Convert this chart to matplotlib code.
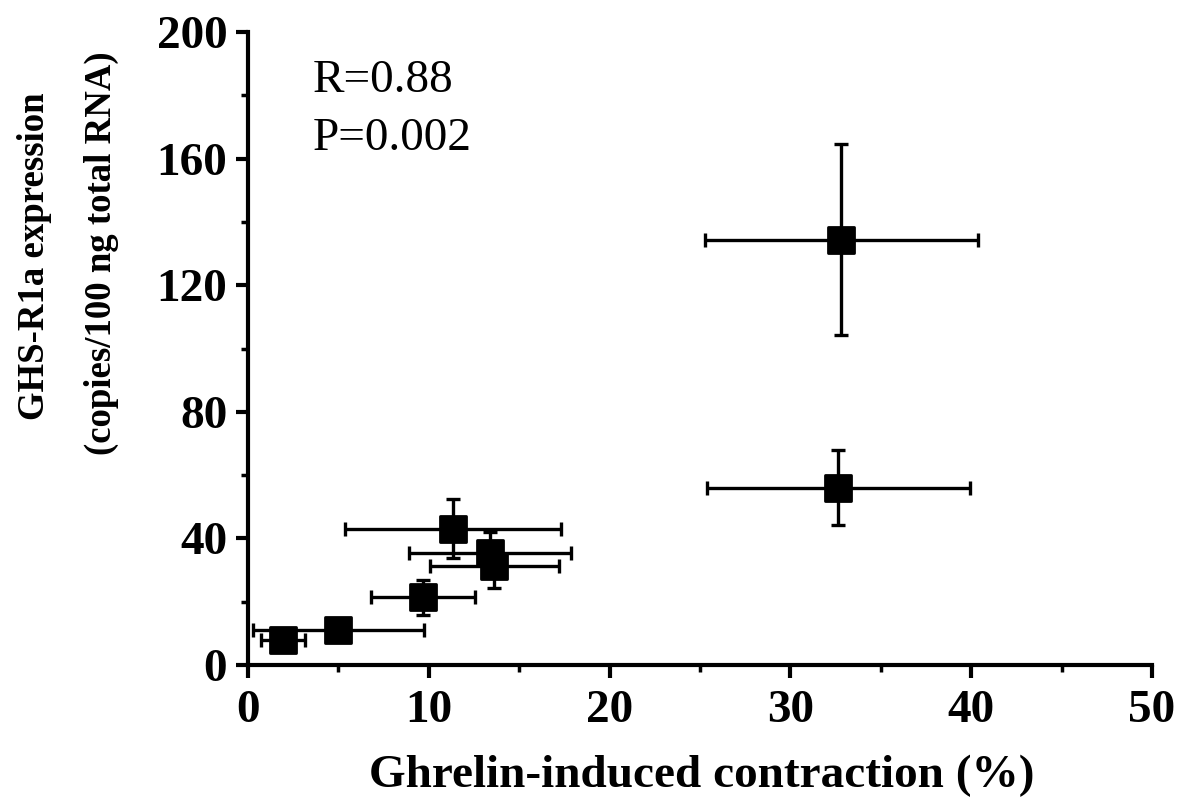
import matplotlib
matplotlib.use("Agg")
import matplotlib.pyplot as plt
from matplotlib.markers import MarkerStyle
from matplotlib.ticker import MultipleLocator

# Ghrelin-induced contraction (%) vs GHS-R1a expression, mean ± SEM
contraction = [1.94, 4.99, 9.66, 11.34, 13.38, 13.63, 32.82, 32.64]
contraction_err = [1.24, 4.73, 2.88, 5.98, 4.49, 3.58, 7.57, 7.28]
expression = [7.8, 11.0, 21.4, 43.0, 35.3, 31.2, 134.4, 56.0]
expression_err = [2.0, 2.0, 5.6, 9.3, 6.6, 6.8, 30.2, 11.9]

x_ticks = [0, 10, 20, 30, 40, 50]
y_ticks = [0, 40, 80, 120, 160, 200]
stats_lines = ["R=0.88", "P=0.002"]

plt.rcParams["font.family"] = ["Liberation Serif", "DejaVu Serif"]

fig = plt.figure(figsize=(11.80, 8.01), dpi=100)
ax = fig.add_axes([248 / 1180, 1 - 665 / 801, (1152 - 248) / 1180, (665 - 32) / 801])

square = MarkerStyle("s", joinstyle="round")
ax.errorbar(contraction, expression, xerr=contraction_err, yerr=expression_err,
            fmt="none", ecolor="black",
            elinewidth=2.4, capsize=5, capthick=2.4, zorder=2)
ax.plot(contraction, expression, linestyle="none", marker=square, ms=18.5,
        mew=2, mec="black", mfc="black", zorder=3)

ax.set_xlim(0, 50)
ax.set_ylim(0, 200)
ax.set_xticks(x_ticks)
ax.set_yticks(y_ticks)
ax.xaxis.set_minor_locator(MultipleLocator(5))
ax.yaxis.set_minor_locator(MultipleLocator(20))

for side in ("top", "right"):
    ax.spines[side].set_visible(False)
for side in ("left", "bottom"):
    ax.spines[side].set_linewidth(3)

ax.tick_params(which="major", direction="out", length=9, width=3, labelsize=34)
ax.tick_params(axis="x", which="major", pad=9)
ax.tick_params(axis="y", which="major", pad=6)
ax.tick_params(which="minor", direction="out", length=5, width=2.5)
ax.set_xticklabels([str(v) for v in x_ticks], fontweight="bold")
ax.set_yticklabels([str(v) for v in y_ticks], fontweight="bold")

ax.text(3.6, 181, stats_lines[0], fontsize=34, va="baseline", ha="left")
ax.text(3.6, 162.6, stats_lines[1], fontsize=34, va="baseline", ha="left")

fig.text(702 / 1180, 1 - 776 / 801, "Ghrelin-induced contraction (%)",
         fontsize=34, fontweight="bold", ha="center", va="center")
fig.text(35 / 1180, 1 - 256 / 801, "GHS-R1a expression", rotation=90,
         fontsize=26.5, fontweight="bold", ha="center", va="center")
fig.text(101 / 1180, 1 - 253 / 801, "(copies/100 ng total RNA)", rotation=90,
         fontsize=26.5, fontweight="bold", ha="center", va="center")

fig.savefig("out.png", dpi=100)
